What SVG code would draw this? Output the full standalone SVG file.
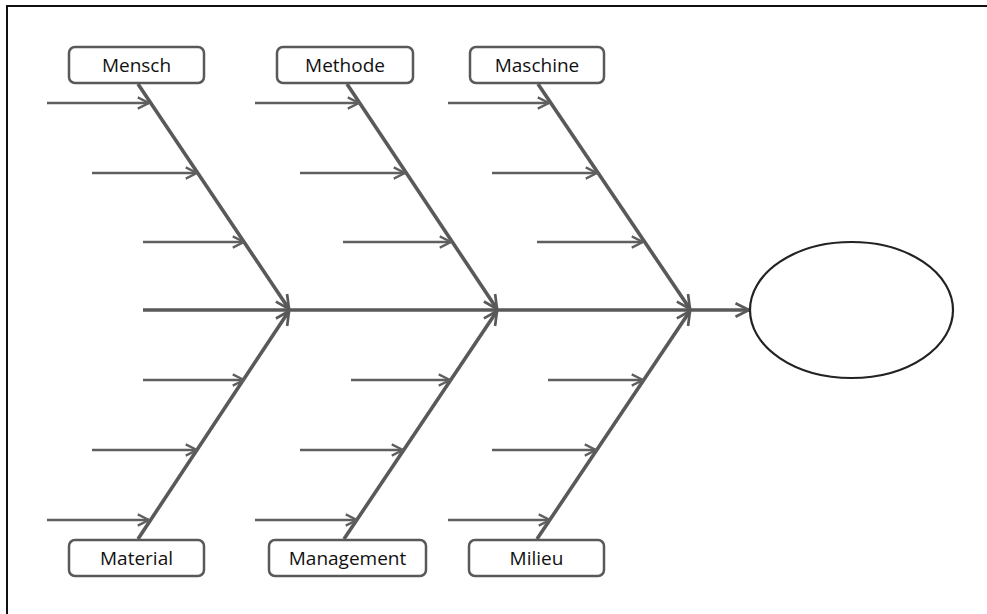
<svg xmlns="http://www.w3.org/2000/svg" width="987" height="614" viewBox="0 0 987 614">
<style>
.box{fill:#fff;stroke:#595959;stroke-width:2.5}
.lbl{font-family:"Open Sans","Liberation Sans",sans-serif;font-size:19px;fill:#111;text-anchor:middle}
.bone{stroke:#595959;stroke-width:3.6;fill:none;marker-end:url(#ah)}
.sub{stroke:#5f5f5f;stroke-width:2.7;fill:none;marker-end:url(#ahs)}
.frame{stroke:#111;stroke-width:2;fill:none}
</style>
<defs>
<marker id="ah" viewBox="0 0 12 12" refX="11" refY="6" markerWidth="4.5" markerHeight="4.5" markerUnits="strokeWidth" orient="auto">
<path d="M1,1 L11,6 L1,11" fill="none" stroke="#595959" stroke-width="2"/>
</marker>
<marker id="ahs" viewBox="0 0 12 12" refX="11" refY="6" markerWidth="5" markerHeight="5" markerUnits="strokeWidth" orient="auto">
<path d="M1,1 L11,6 L1,11" fill="none" stroke="#5f5f5f" stroke-width="2"/>
</marker>
</defs>
<rect width="987" height="614" fill="#fff"/>
<path class="frame" d="M7,614 V6 H987"/>
<g id="connectors">
<line class="bone" x1="143" y1="310" x2="749" y2="310"/>
<line class="bone" x1="138" y1="84" x2="289" y2="309"/>
<line class="bone" x1="347" y1="84" x2="497" y2="309"/>
<line class="bone" x1="538" y1="84" x2="690" y2="309"/>
<line class="bone" x1="138" y1="539" x2="289" y2="311"/>
<line class="bone" x1="344" y1="539" x2="497" y2="311"/>
<line class="bone" x1="537" y1="539" x2="690" y2="311"/>
<line class="sub" x1="47" y1="103" x2="149" y2="103"/>
<line class="sub" x1="92" y1="173" x2="197" y2="173"/>
<line class="sub" x1="143" y1="242" x2="244" y2="242"/>
<line class="sub" x1="255" y1="103" x2="359" y2="103"/>
<line class="sub" x1="300" y1="173" x2="405" y2="173"/>
<line class="sub" x1="343" y1="242" x2="451" y2="242"/>
<line class="sub" x1="448" y1="103" x2="549" y2="103"/>
<line class="sub" x1="492" y1="173" x2="597" y2="173"/>
<line class="sub" x1="537" y1="242" x2="643" y2="242"/>
<line class="sub" x1="143" y1="380" x2="244" y2="380"/>
<line class="sub" x1="92" y1="450" x2="197" y2="450"/>
<line class="sub" x1="47" y1="520" x2="149" y2="520"/>
<line class="sub" x1="351" y1="380" x2="450" y2="380"/>
<line class="sub" x1="300" y1="450" x2="403" y2="450"/>
<line class="sub" x1="255" y1="520" x2="357" y2="520"/>
<line class="sub" x1="548" y1="380" x2="643" y2="380"/>
<line class="sub" x1="492" y1="450" x2="596" y2="450"/>
<line class="sub" x1="448" y1="520" x2="550" y2="520"/>
</g>
<g id="mensch"><rect class="box" x="69" y="47" width="135" height="36" rx="6"/><text class="lbl" x="136.5" y="72">Mensch</text></g>
<g id="methode"><rect class="box" x="277" y="47" width="136" height="36" rx="6"/><text class="lbl" x="345" y="72">Methode</text></g>
<g id="maschine"><rect class="box" x="470" y="47" width="134" height="36" rx="6"/><text class="lbl" x="537" y="72">Maschine</text></g>
<g id="material"><rect class="box" x="69" y="540" width="135" height="36" rx="6"/><text class="lbl" x="136.5" y="565">Material</text></g>
<g id="management"><rect class="box" x="269" y="540" width="157" height="36" rx="6"/><text class="lbl" x="347.5" y="565">Management</text></g>
<g id="milieu"><rect class="box" x="469" y="540" width="135" height="36" rx="6"/><text class="lbl" x="536.5" y="565">Milieu</text></g>
<g id="effect"><ellipse cx="851.5" cy="310" rx="101.5" ry="68" fill="#fff" stroke="#222" stroke-width="2.2"/></g>
</svg>
